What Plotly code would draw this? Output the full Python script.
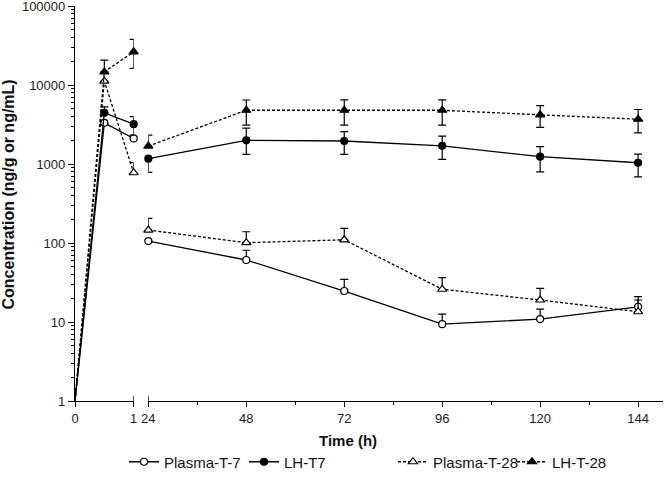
import plotly.graph_objects as go

# ---- data ----
t_early = [0, 0.5, 1]
t_late = [24, 48, 72, 96, 120, 144]

plasma7_early = [1, 3330, 2110]
plasma7_late = [106, 61, 24.7, 9.4, 10.9, 15.6]
plasma7_early_up = [0, 0, 0]
plasma7_early_dn = [0, 0, 0]
plasma7_late_up = [0, 20, 10, 3.2, 3.7, 3.4]
plasma7_late_dn = [0, 0, 0, 0, 0, 0]

lh7_early = [1, 4460, 3200]
lh7_late = [1170, 2000, 1960, 1700, 1240, 1040]
lh7_early_up = [0, 840, 790]
lh7_early_dn = [0, 0, 870]
lh7_late_up = [0, 860, 610, 560, 420, 300]
lh7_late_dn = [385, 670, 630, 550, 445, 350]

p28_early = [1, 11200, 777]
p28_late = [146, 101, 110, 26, 19, 13.5]
p28_early_up = [0, 0, 263]
p28_early_dn = [0, 0, 0]
p28_late_up = [59, 38, 43, 10.5, 7.7, 7.5]
p28_late_dn = [0, 0, 0, 0, 0, 0]

lh28_early = [1, 14700, 26400]
lh28_late = [1690, 4800, 4800, 4800, 4200, 3700]
lh28_early_up = [0, 6000, 11600]
lh28_early_dn = [0, 0, 10100]
lh28_late_up = [640, 1680, 1700, 1700, 1300, 1210]
lh28_late_dn = [0, 1680, 1680, 1680, 1285, 1210]

series_names = ["Plasma-T-7", "LH-T7", "Plasma-T-28", "LH-T-28"]

y_tickvals = [1, 10, 100, 1000, 10000, 100000]
y_ticktext = ["1", "10", "100", "1000", "10000", "100000"]
x1_ticks = [0, 1]
x2_ticks = [24, 48, 72, 96, 120, 144]
x2_minor = [36, 60, 84, 108, 132]

# ---- styles ----
styles = [
    dict(symbol="circle", fill="white", size=7, dash="solid"),
    dict(symbol="circle", fill="black", size=7, dash="solid"),
    dict(symbol="triangle-up", fill="white", size=8, dash="3px,2px"),
    dict(symbol="triangle-up", fill="black", size=8, dash="3px,2px"),
]
legend_x_px = [124, 244, 393, 512]

data = [
    (plasma7_early, plasma7_late, plasma7_early_up, plasma7_early_dn, plasma7_late_up, plasma7_late_dn),
    (lh7_early, lh7_late, lh7_early_up, lh7_early_dn, lh7_late_up, lh7_late_dn),
    (p28_early, p28_late, p28_early_up, p28_early_dn, p28_late_up, p28_late_dn),
    (lh28_early, lh28_late, lh28_early_up, lh28_early_dn, lh28_late_up, lh28_late_dn),
]

L, R, T, B = 75, 3, 6, 76
W, H = 666, 477
pw = W - L - R
ph = H - T - B

def px2paper_x(px):
    return (px - L) / pw

def px2paper_y(py):
    return (H - B - py) / ph

fig = go.Figure()

for i, (name, st, d) in enumerate(zip(series_names, styles, data)):
    e, l, eu, ed, lu, ld = d
    lname = "legend" if i == 0 else f"legend{i+1}"
    common = dict(
        line=dict(color="black", width=1.3, dash=st["dash"]),
        cliponaxis=False,
        hoverinfo="skip",
    )
    # connecting line from the origin point (no marker there)
    fig.add_trace(go.Scatter(
        x=t_early, y=e, xaxis="x", yaxis="y", name=name, showlegend=False,
        mode="lines", **common))
    # early markers with error bars (points after t=0)
    fig.add_trace(go.Scatter(
        x=t_early[1:], y=e[1:], xaxis="x", yaxis="y", name=name, showlegend=False,
        mode="markers",
        marker=dict(symbol=st["symbol"], color=st["fill"], size=st["size"], opacity=1,
                    line=dict(color="black", width=1.2)),
        error_y=dict(type="data", array=eu[1:], arrayminus=ed[1:], symmetric=False,
                     color="black", thickness=1.2, width=4),
        cliponaxis=False, hoverinfo="skip"))
    fig.add_trace(go.Scatter(
        x=t_late, y=l, xaxis="x2", yaxis="y", name=name, showlegend=True, legend=lname,
        mode="lines+markers",
        marker=dict(symbol=st["symbol"], color=st["fill"], size=st["size"], opacity=1,
                    line=dict(color="black", width=1.2)),
        error_y=dict(type="data", array=lu, arrayminus=ld, symmetric=False,
                     color="black", thickness=1.2, width=4),
        **common))

font_family = "Arial, Liberation Sans, sans-serif"
tickfont = dict(family=font_family, size=13, color="#222")

minor_y = [k * 10 ** d for d in range(0, 5) for k in range(2, 10)]

layout = dict(
    width=W, height=H,
    margin=dict(l=L, r=R, t=T, b=B, autoexpand=False),
    paper_bgcolor="white", plot_bgcolor="white",
    font=dict(family=font_family, color="#111"),
    hovermode=False,
    xaxis=dict(domain=[0, px2paper_x(133.7)], range=[0, 1.0005], anchor="y",
               tickvals=x1_ticks, ticktext=[str(v) for v in x1_ticks],
               showline=True, linecolor="black", linewidth=1.2,
               ticks="outside", ticklen=5, tickwidth=1.2, tickcolor="black",
               showgrid=False, zeroline=False, tickfont=tickfont, automargin=False),
    xaxis2=dict(domain=[px2paper_x(148.3), 1], range=[23.99, 150.1], anchor="y",
                tickvals=x2_ticks, ticktext=[str(v) for v in x2_ticks],
                showline=True, linecolor="black", linewidth=1.2,
                ticks="outside", ticklen=5, tickwidth=1.2, tickcolor="black",
                minor=dict(tickvals=x2_minor, ticks="outside", ticklen=3, tickwidth=1, tickcolor="black"),
                showgrid=False, zeroline=False, tickfont=tickfont, automargin=False),
    yaxis=dict(type="log", range=[0, 5.0015], anchor="x",
               tickvals=y_tickvals, ticktext=y_ticktext,
               showline=True, linecolor="black", linewidth=1.2,
               ticks="outside", ticklen=6, tickwidth=1.2, tickcolor="black",
               minor=dict(tickvals=minor_y, ticks="outside", ticklen=3, tickwidth=1, tickcolor="black"),
               showgrid=False, zeroline=False, tickfont=tickfont,
               ticklabeloverflow="allow", automargin=False),
    showlegend=True,
)

for i, lx in enumerate(legend_x_px):
    key = "legend" if i == 0 else f"legend{i+1}"
    layout[key] = dict(x=lx / W, y=1 - 462 / H, xref="container", yref="container",
                       xanchor="left", yanchor="middle",
                       orientation="h", bgcolor="rgba(0,0,0,0)",
                       font=dict(family=font_family, size=15, color="#111"))

fig.update_layout(**layout)

# axis break marks
fig.add_shape(type="line", xref="x", yref="paper", x0=1, x1=1, y0=0, y1=0.013,
              line=dict(color="black", width=1.2))
fig.add_shape(type="line", xref="x2", yref="paper", x0=24, x1=24, y0=-0.013, y1=0.013,
              line=dict(color="black", width=1.2))

fig.add_annotation(text="<b>Concentration (ng/g or ng/mL)</b>", textangle=-90,
                   xref="paper", yref="paper", x=px2paper_x(8), y=px2paper_y(194.5),
                   xanchor="center", yanchor="middle", showarrow=False,
                   font=dict(family=font_family, size=16, color="#111"))
fig.add_annotation(text="<b>Time (h)</b>",
                   xref="paper", yref="paper", x=px2paper_x(348), y=px2paper_y(440),
                   xanchor="center", yanchor="middle", showarrow=False,
                   font=dict(family=font_family, size=15, color="#111"))

fig.write_html("out.html", config={"displayModeBar": False},
               post_script="document.body.style.margin='0';document.body.style.overflow='hidden';")
